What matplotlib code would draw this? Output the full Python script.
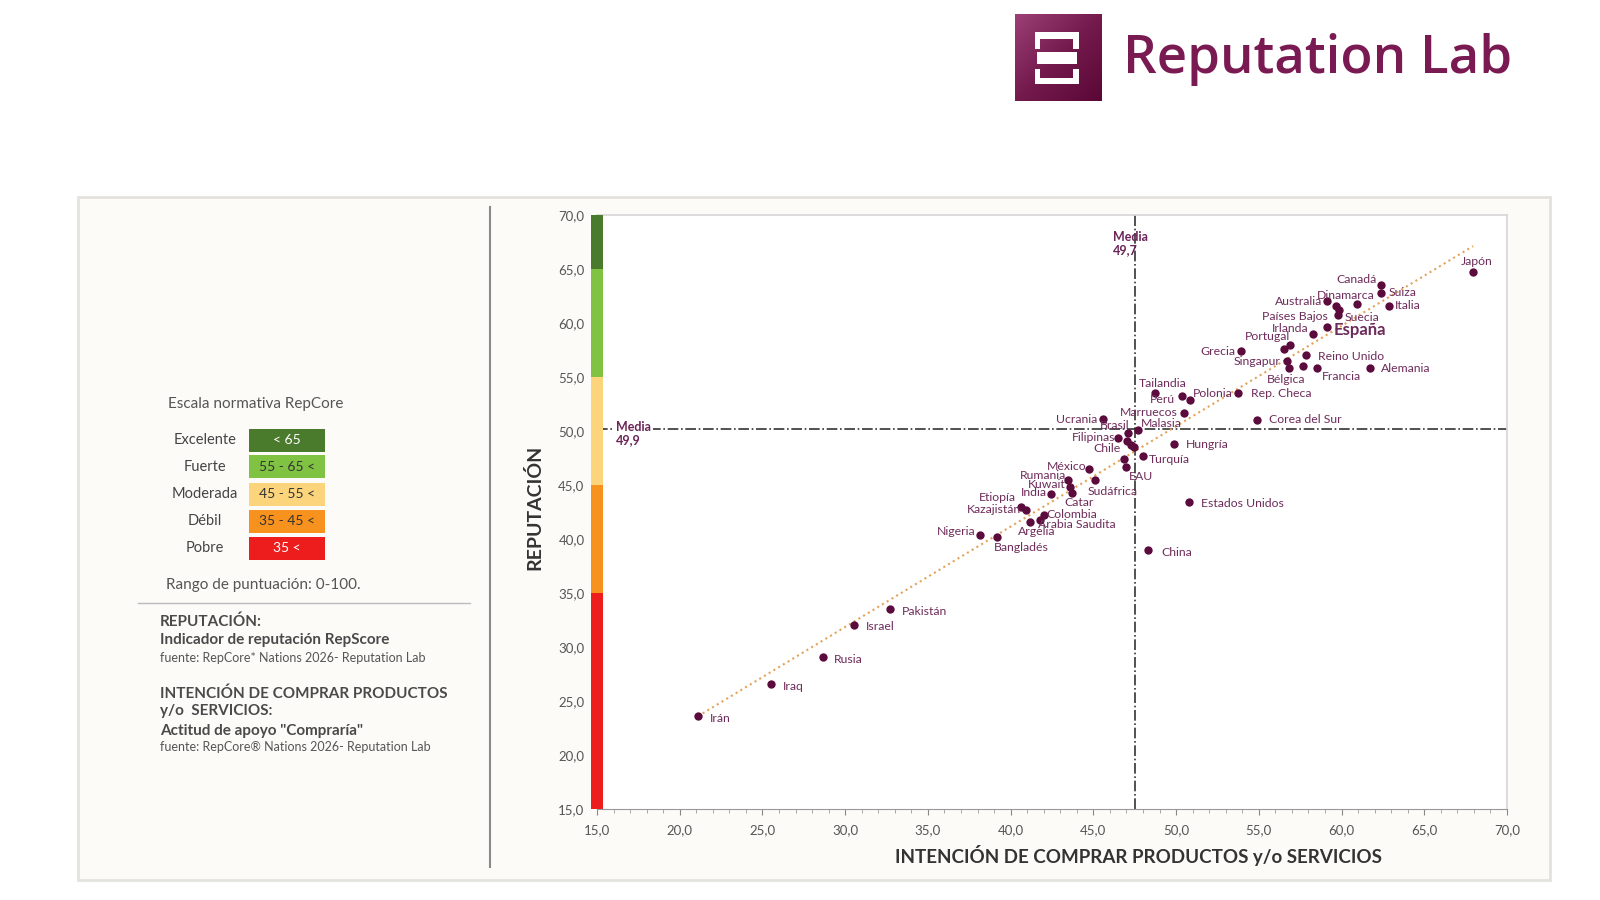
import numpy as np
import matplotlib
matplotlib.use('Agg')
import matplotlib.pyplot as plt
from matplotlib.patches import Rectangle
from matplotlib.colors import LinearSegmentedColormap
import matplotlib.transforms as mtransforms

plt.rcParams['font.family'] = ['Lato', 'DejaVu Sans']

# ---- data ----
countries = ['Japón', 'Canadá', 'Suiza', 'Italia', 'Dinamarca', 'Australia', 'Países Bajos', '',
             'Suecia', 'España', 'Irlanda', 'Portugal', '', 'Grecia', 'Reino Unido', 'Singapur',
             'Bélgica', '', 'Francia', 'Alemania', 'Tailandia', 'Perú', 'Polonia', 'Rep. Checa',
             'Marruecos', 'Corea del Sur', 'Ucrania', 'Brasil', 'Malasia', 'Filipinas', 'Chile',
             '', '', 'Hungría', 'Turquía', '', 'EAU', 'México', 'Sudáfrica', 'Rumania', 'Kuwait',
             'Catar', 'India', 'Etiopía', 'Kazajistán', 'Colombia', 'Arabia Saudita', 'Argelia',
             'Nigeria', 'Bangladés', 'China', 'Estados Unidos', 'Pakistán', 'Israel', 'Rusia',
             'Iraq', 'Irán']
intencion = [67.95, 62.4, 62.4, 62.85, 60.95, 59.15, 59.65, 59.85,
             59.8, 59.1, 58.25, 56.9, 56.5, 53.95, 57.85, 56.7,
             56.8, 57.65, 58.5, 61.7, 48.7, 50.35, 50.85, 53.75,
             50.45, 54.9, 45.6, 47.1, 47.7, 46.5, 47.25,
             47.05, 47.45, 49.85, 48.0, 46.85, 47.0, 44.75, 45.1, 43.45, 43.6,
             43.7, 42.45, 40.65, 40.9, 42.0, 41.8, 41.2,
             38.15, 39.2, 48.3, 50.8, 32.7, 30.55, 28.65,
             25.5, 21.1]
reputacion = [64.7, 63.5, 62.8, 61.6, 61.75, 62.0, 61.6, 61.2,
              60.7, 59.6, 59.0, 58.0, 57.6, 57.4, 57.05, 56.45,
              55.8, 56.05, 55.8, 55.8, 53.5, 53.25, 52.9, 53.5,
              51.7, 51.05, 51.1, 49.85, 50.05, 49.35, 48.75,
              49.05, 48.5, 48.8, 47.7, 47.4, 46.65, 46.45, 45.5, 45.5, 44.85,
              44.25, 44.15, 42.95, 42.7, 42.25, 41.8, 41.55,
              40.4, 40.2, 39.0, 43.4, 33.5, 32.05, 29.05,
              26.6, 23.6]

media_x = 47.5
media_x_label = '49,7'
media_y = 50.2
media_y_label = '49,9'

scale_names = ['Excelente', 'Fuerte', 'Moderada', 'Débil', 'Pobre']
scale_ranges = ['< 65', '55 - 65 <', '45 - 55 <', '35 - 45 <', '35 <']
band_edges = [70, 65, 55, 45, 35, 15]

# ---- styling ----
band_colors = ['#4a7a2c', '#80c342', '#fcd47c', '#f7921e', '#ee1d1d']
band_text = ['white', '#333333', '#333333', '#333333', 'white']
dot_color = '#5b0b3c'
label_color = '#6e2c5b'
grey = '#555555'

# label offsets in pixels (dx, dy, ha)
offsets = {
    'Japón': (4, 11, 'center'), 'Canadá': (-5, 6, 'right'), 'Suiza': (7, 0, 'left'),
    'Italia': (6, 0, 'left'), 'Dinamarca': (-12, 9, 'center'), 'Australia': (-5, 0, 'right'),
    'Países Bajos': (-8, -11, 'right'), 'Suecia': (6, -2, 'left'), 'España': (7, -3, 'left'),
    'Irlanda': (-4, 5, 'right'), 'Portugal': (0, 8, 'right'), 'Grecia': (-6, 0, 'right'),
    'Reino Unido': (12, -2, 'left'), 'Singapur': (-6, 0, 'right'), 'Bélgica': (-2, -11, 'center'),
    'Francia': (5, -8, 'left'), 'Alemania': (11, 0, 'left'), 'Tailandia': (-16, 10, 'left'),
    'Perú': (-7, -4, 'right'), 'Polonia': (3, 6, 'left'), 'Rep. Checa': (13, 0, 'left'),
    'Marruecos': (-6, 0, 'right'), 'Corea del Sur': (12, 0, 'left'), 'Ucrania': (-6, 0, 'right'),
    'Brasil': (1, 7, 'right'), 'Malasia': (3, 7, 'left'), 'Filipinas': (-3, 1, 'right'),
    'Chile': (-10, -4, 'right'), 'Hungría': (12, -1, 'left'), 'Turquía': (6, -4, 'left'),
    'EAU': (2, -9, 'left'), 'México': (-3, 3, 'right'), 'Sudáfrica': (-7, -12, 'left'),
    'Rumania': (-2, 4, 'right'), 'Kuwait': (-5, 2, 'right'), 'Catar': (-7, -9, 'left'),
    'India': (-4, 2, 'right'), 'Etiopía': (-6, 10, 'right'), 'Kazajistán': (-5, 0, 'right'),
    'Colombia': (3, 0, 'left'), 'Arabia Saudita': (-2, -5, 'left'), 'Argelia': (6, -9, 'center'),
    'Nigeria': (-5, 3, 'right'), 'Bangladés': (-4, -11, 'left'), 'China': (13, -3, 'left'),
    'Estados Unidos': (12, -1, 'left'), 'Pakistán': (12, -2, 'left'), 'Israel': (12, -2, 'left'),
    'Rusia': (11, -2, 'left'), 'Iraq': (12, -3, 'left'), 'Irán': (12, -2, 'left'),
}

W, H = 1600, 900
def fx(px):
    return px / W
def fy(py):
    return 1 - py / H

fig = plt.figure(figsize=(16, 9), dpi=100, facecolor='white')

# panel + divider (behind the axes)
fig.add_artist(Rectangle((fx(78), fy(880)), fx(1550) - fx(78), fy(197) - fy(880),
                         transform=fig.transFigure, facecolor='#fcfbf8', edgecolor='#e4e2dc',
                         lw=2, zorder=-10))
fig.add_artist(plt.Line2D([fx(490), fx(490)], [fy(207), fy(867)], transform=fig.transFigure,
                          color='#8a8a8a', lw=1.5, zorder=-5))

# logo
lax = fig.add_axes([fx(1015), fy(101), fx(87), 87 / H])
g = np.add.outer(np.linspace(0, 1, 100), np.linspace(0, 1, 100)) / 2
cmap = LinearSegmentedColormap.from_list('logo', ['#9c4077', '#741a4d', '#5a0836'])
lax.imshow(g, cmap=cmap, extent=[0, 1, 0, 1], aspect='auto')
for (x0, y0, w, h) in [(0.23, 0.71, 0.50, 0.08), (0.23, 0.60, 0.06, 0.18), (0.67, 0.60, 0.06, 0.18),
                       (0.25, 0.43, 0.46, 0.13),
                       (0.23, 0.19, 0.50, 0.08), (0.23, 0.19, 0.06, 0.18), (0.67, 0.19, 0.06, 0.18)]:
    lax.add_patch(Rectangle((x0, y0), w, h, facecolor='white', edgecolor='none'))
lax.set_xlim(0, 1)
lax.set_ylim(0, 1)
lax.axis('off')
fig.text(fx(1123), fy(60), 'Reputation Lab', fontsize=38, color='#7a1a52',
         family=['Open Sans', 'DejaVu Sans'], weight='semibold', va='center', ha='left')

# left panel legend
fig.text(fx(168), fy(404), 'Escala normativa RepCore', fontsize=11, color=grey, va='center')
row_y = [440, 467, 494, 521, 548]
for name, rng, c, tc, ry in zip(scale_names, scale_ranges, band_colors, band_text, row_y):
    fig.text(fx(205), fy(ry), name, fontsize=10.5, color='#444444', ha='center', va='center')
    fig.add_artist(Rectangle((fx(249), fy(ry + 11.5)), fx(76), 23 / H, transform=fig.transFigure,
                             facecolor=c, edgecolor='none'))
    fig.text(fx(287), fy(ry), rng, fontsize=10, color=tc, ha='center', va='center')
fig.text(fx(166), fy(585), 'Rango de puntuación: 0-100.', fontsize=11, color=grey, va='center')
fig.add_artist(plt.Line2D([fx(138), fx(470)], [fy(603), fy(603)], transform=fig.transFigure,
                          color='#bbbbbb', lw=1))
fig.text(fx(160), fy(622), 'REPUTACIÓN:', fontsize=11, weight='bold', color='#4a4a4a', va='center')
fig.text(fx(160), fy(640), 'Indicador de reputación RepScore', fontsize=11, weight='bold',
         color='#4a4a4a', va='center')
fig.text(fx(160), fy(658), 'fuente: RepCore* Nations 2026- Reputation Lab', fontsize=9,
         color=grey, va='center')
fig.text(fx(160), fy(694), 'INTENCIÓN DE COMPRAR PRODUCTOS', fontsize=11, weight='bold',
         color='#4a4a4a', va='center')
fig.text(fx(160), fy(711), 'y/o  SERVICIOS:', fontsize=11, weight='bold', color='#4a4a4a', va='center')
fig.text(fx(160), fy(731), 'Actitud de apoyo "Compraría"', fontsize=11, weight='bold',
         color='#4a4a4a', va='center')
fig.text(fx(160), fy(747), 'fuente: RepCore® Nations 2026- Reputation Lab', fontsize=9,
         color=grey, va='center')

# scatter axes
ax = fig.add_axes([fx(597), fy(809), fx(1507) - fx(597), fy(215) - fy(809)])
ax.set_zorder(2)
ax.set_facecolor('white')
ax.set_xlim(15, 70)
ax.set_ylim(15, 70)

for s in ['top', 'right']:
    ax.spines[s].set_color('#d6d6d6')
    ax.spines[s].set_linewidth(1.2)
ax.spines['left'].set_visible(False)
ax.spines['bottom'].set_color('#999999')

xt = np.arange(15, 71, 5)
ax.set_xticks(xt)
ax.set_xticklabels([('%.1f' % v).replace('.', ',') for v in xt])
ax.set_xticks(np.arange(15, 71, 1), minor=True)
ax.set_yticks(xt)
ax.set_yticklabels([('%.1f' % v).replace('.', ',') for v in xt])
ax.tick_params(axis='x', which='major', length=4, color='#888888', labelsize=9.5,
               labelcolor=grey, pad=7)
ax.tick_params(axis='x', which='minor', length=3, color='#999999')
ax.tick_params(axis='y', length=0, labelsize=9.5, labelcolor=grey, pad=9)

# reputation colour scale on the y axis
blend = mtransforms.blended_transform_factory(ax.transAxes, ax.transData)
bw = 12 / 910
for hi, lo, c in zip(band_edges[:-1], band_edges[1:], band_colors):
    ax.add_patch(Rectangle((-bw / 2, lo), bw, hi - lo, transform=blend, facecolor=c,
                           edgecolor='none', clip_on=False, zorder=5))

# media lines
ax.axvline(media_x, color='#333333', ls='-.', lw=1.2, zorder=1)
ax.axhline(media_y, color='#333333', ls='-.', lw=1.2, zorder=1)
ax.annotate('Media\n' + media_x_label, (media_x, 70), xytext=(-22, -16),
            textcoords='offset pixels', ha='left', va='top', fontsize=9, weight='bold',
            color='#6b2457', linespacing=1.1)
ax.annotate('Media\n' + media_y_label, (15, media_y), xytext=(19, 8),
            textcoords='offset pixels', ha='left', va='top', fontsize=9, weight='bold',
            color='#6b2457', linespacing=1.1,
            bbox=dict(boxstyle='square,pad=0.15', facecolor='white', edgecolor='none'))

# trend line
xs = np.array(intencion)
ys = np.array(reputacion)
k, b = np.polyfit(xs, ys, 1)
tx = np.array([xs.min(), xs.max()])
ax.plot(tx, k * tx + b, color='#e3a45a', ls=':', lw=1.5, zorder=2)

ax.scatter(xs, ys, s=36, color=dot_color, zorder=4, linewidths=0)

for name, x, y in zip(countries, intencion, reputacion):
    if not name:
        continue
    dx, dy, ha = offsets[name]
    big = name == 'España'
    ax.annotate(name, (x, y), xytext=(dx, dy), textcoords='offset pixels', ha=ha, va='center',
                fontsize=12 if big else 8.8, weight='bold' if big else 'normal',
                color=label_color, zorder=6)

fig.text(fx(534), fy(507), 'REPUTACIÓN', rotation=90, fontsize=14, weight='bold',
         color='#333333', ha='center', va='center')
fig.text(fx(1138), fy(855), 'INTENCIÓN DE COMPRAR PRODUCTOS y/o SERVICIOS', fontsize=13.5,
         weight='bold', color='#333333', ha='center', va='center')

fig.savefig('out.png', dpi=100, facecolor='white')
